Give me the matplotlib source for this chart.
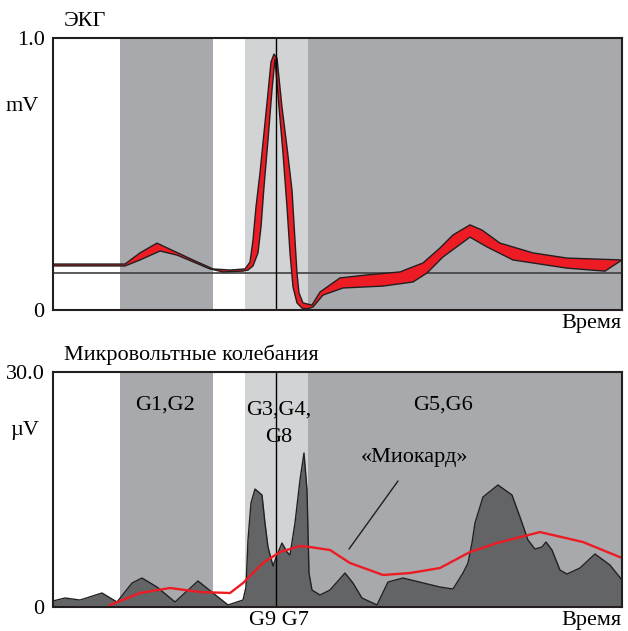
import matplotlib.pyplot as plt

plt.rcParams["font.family"] = ["Liberation Serif", "DejaVu Serif"]

# background bands along time axis (start, end, colour)
BANDS = [(0, 67, "white"), (67, 160, "#a7a9ac"), (160, 192, "white"),
         (192, 255, "#d1d3d4"), (255, 569, "#a7a9ac")]
T_MARK = 223          # vertical marker (R peak)
ECG_BASE = 0.137      # horizontal reference line, mV

# ECG band: upper and lower edge
ecg_up_t = [0, 72, 87, 104, 112, 140, 160, 177, 192, 197, 200, 203, 207, 211, 215,
            218, 221, 224, 229, 234, 239, 242, 244, 246, 250, 259, 267, 287, 314,
            347, 370, 387, 400, 417, 429, 447, 480, 514, 569]
ecg_up_v = [0.169, 0.169, 0.210, 0.246, 0.232, 0.184, 0.151, 0.147, 0.151, 0.176,
            0.257, 0.379, 0.504, 0.651, 0.798, 0.912, 0.941, 0.926, 0.746, 0.599,
            0.441, 0.257, 0.136, 0.063, 0.026, 0.018, 0.066, 0.118, 0.129, 0.140,
            0.173, 0.228, 0.276, 0.313, 0.294, 0.246, 0.210, 0.191, 0.184]
ecg_lo_t = [0, 72, 87, 107, 124, 157, 170, 190, 195, 200, 205, 208, 211, 215, 219,
            222, 226, 230, 234, 237, 240, 244, 249, 254, 260, 270, 290, 330, 360,
            374, 390, 417, 434, 460, 514, 552, 569]
ecg_lo_v = [0.162, 0.162, 0.184, 0.217, 0.202, 0.151, 0.140, 0.143, 0.147, 0.162,
            0.210, 0.305, 0.452, 0.625, 0.809, 0.923, 0.746, 0.577, 0.379, 0.210,
            0.085, 0.026, 0.007, 0.004, 0.011, 0.055, 0.081, 0.088, 0.103, 0.136,
            0.195, 0.268, 0.232, 0.184, 0.154, 0.143, 0.184]

# microvolt oscillations
mv_t = [0, 12, 27, 49, 64, 79, 89, 104, 122, 145, 160, 175, 190, 193, 195, 198, 202,
        209, 212, 215, 220, 224, 229, 234, 237, 242, 247, 251, 254, 256, 259, 267,
        277, 292, 300, 309, 324, 335, 350, 387, 400, 410, 415, 419, 422, 430, 445,
        459, 467, 475, 482, 489, 493, 499, 507, 514, 527, 542, 557, 569]
mv_v = [0.77, 1.15, 0.89, 1.79, 0.64, 3.06, 3.70, 2.55, 0.64, 3.32, 1.79, 0.26, 0.89,
        2.55, 8.55, 13.28, 15.06, 14.30, 10.72, 7.66, 5.23, 6.64, 8.17, 7.02, 6.64,
        10.72, 16.21, 19.66, 14.94, 4.34, 2.17, 1.53, 2.17, 4.34, 3.06, 1.15, 0.26,
        3.19, 3.70, 2.55, 2.30, 4.34, 5.62, 8.17, 10.72, 14.04, 15.58, 14.30, 11.49,
        8.55, 7.40, 7.66, 8.30, 7.28, 4.72, 4.21, 4.98, 6.77, 5.36, 3.45]

# "Миокард" curve
myo_t = [57, 87, 117, 147, 177, 190, 210, 227, 247, 257, 277, 297, 330, 357, 387,
         417, 444, 487, 530, 569]
myo_v = [0.26, 1.79, 2.43, 1.91, 1.79, 3.06, 5.62, 7.02, 7.79, 7.66, 7.28, 5.62,
         4.09, 4.34, 4.98, 7.02, 8.17, 9.57, 8.30, 6.26]

FS = 16
EDGE = "#231f20"


def setup_axes(ax, ymax, top_label, unit):
    for a, b, c in BANDS:
        ax.axvspan(a, b, color=c, lw=0, zorder=0)
    ax.axvline(T_MARK, color="black", lw=1, zorder=5)
    ax.set_xlim(0, 569)
    ax.set_ylim(0, ymax)
    ax.set_xticks([])
    ax.set_yticks([0, ymax])
    ax.set_yticklabels(["0", top_label], fontsize=FS)
    ax.tick_params(axis="y", length=0, pad=6)
    for s in ax.spines.values():
        s.set_color(EDGE)
        s.set_linewidth(1.5)
        s.set_zorder(10)
    ax.text(-0.025, 0.75, unit, transform=ax.transAxes, ha="right", va="center", fontsize=FS)
    ax.text(1.0, -0.015, "Время", transform=ax.transAxes, ha="right", va="top", fontsize=FS)


fig = plt.figure(figsize=(6.28, 6.31), dpi=100)
ax1 = fig.add_axes([0.0844, 0.5087, 0.906, 0.431])
ax2 = fig.add_axes([0.0844, 0.038, 0.906, 0.3724])

# ECG
setup_axes(ax1, 1.0, "1.0", "mV")
ax1.axhline(ECG_BASE, color="#404041", lw=1.2, zorder=3)
ax1.fill(ecg_up_t + ecg_lo_t[::-1], ecg_up_v + ecg_lo_v[::-1],
         color="#ed1c24", lw=0, zorder=4)
ax1.plot(ecg_up_t, ecg_up_v, color=EDGE, lw=1, zorder=4)
ax1.plot(ecg_lo_t, ecg_lo_v, color=EDGE, lw=1, zorder=4)
ax1.text(0.018, 1.025, "ЭКГ", transform=ax1.transAxes, ha="left", va="bottom", fontsize=FS)

# microvolt oscillations
setup_axes(ax2, 30.0, "30.0", "µV")
ax2.fill_between(mv_t, 0, mv_v, color="#636466", lw=0, zorder=2)
ax2.plot(mv_t, mv_v, color=EDGE, lw=1, zorder=2)
ax2.plot(myo_t, myo_v, color="#ed1c24", lw=1.7, zorder=6)
ax2.text(0.02, 1.03, "Микровольтные колебания", transform=ax2.transAxes,
         ha="left", va="bottom", fontsize=FS)
ax2.text(112, 25.8, "G1,G2", ha="center", va="center", fontsize=FS, zorder=7)
ax2.text(226, 25.1, "G3,G4,", ha="center", va="center", fontsize=FS, zorder=7)
ax2.text(226, 21.7, "G8", ha="center", va="center", fontsize=FS, zorder=7)
ax2.text(390, 25.8, "G5,G6", ha="center", va="center", fontsize=FS, zorder=7)
ax2.annotate("«Миокард»", xy=(296, 7.4), xytext=(362, 19.1), ha="center", va="center",
             fontsize=FS, zorder=7,
             arrowprops=dict(arrowstyle="-", color=EDGE, lw=1, shrinkA=10, shrinkB=0))
ax2.text(226, -0.015, "G9 G7", transform=ax2.get_xaxis_transform(), ha="center",
         va="top", fontsize=FS)

fig.savefig("out.png", dpi=100)
